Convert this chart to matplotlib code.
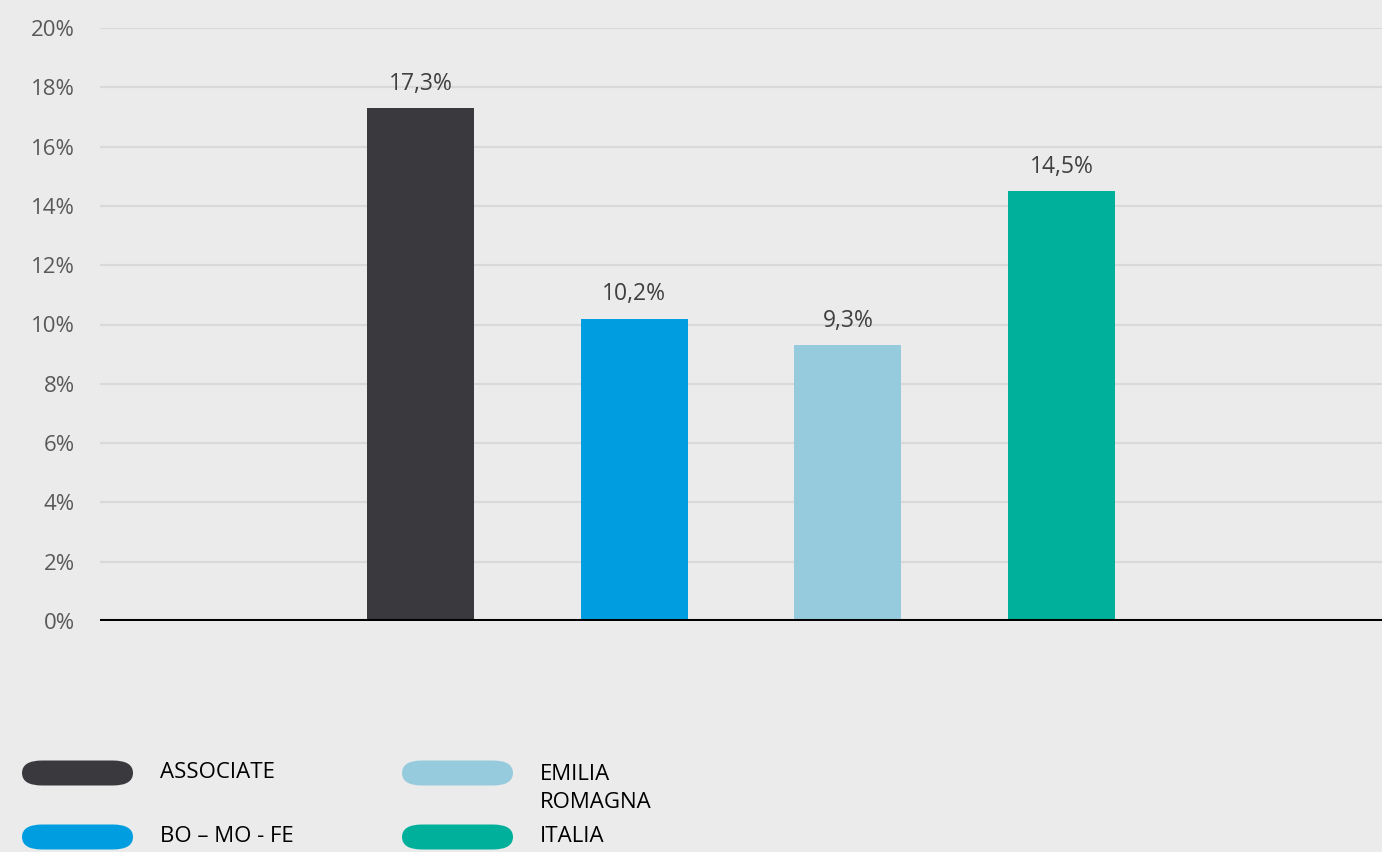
import matplotlib.pyplot as plt
from matplotlib.patches import FancyBboxPatch
import numpy as np

# data
categories = ['', 'ASSOCIATE', 'BO – MO - FE', 'EMILIA\nROMAGNA', 'ITALIA', '']
values = [None, 17.3, 10.2, 9.3, 14.5, None]
colors = ['#3a393e', '#009ee0', '#96cbdd', '#00b09b']
yticks = [0, 2, 4, 6, 8, 10, 12, 14, 16, 18, 20]

bg = '#ebebeb'
plt.rcParams['font.family'] = ['Open Sans', 'DejaVu Sans']

fig = plt.figure(figsize=(13.82, 8.52), dpi=100, facecolor=bg)
ax = fig.add_axes([100 / 1382, 1 - 621 / 852, 1 - 100 / 1382, (621 - 28) / 852])
ax.set_facecolor(bg)

shown = [i for i, v in enumerate(values) if v is not None]
bar_vals = [values[i] for i in shown]
bars = ax.bar(shown, bar_vals, width=0.5, color=colors, zorder=3)

for b, v in zip(bars, bar_vals):
    ax.annotate(f"{v:.1f}%".replace('.', ','),
                (b.get_x() + b.get_width() / 2, v),
                xytext=(0, 9), textcoords='offset points',
                ha='center', va='bottom', fontsize=16.5, color='#404040')

ax.set_xlim(-0.5, len(categories) - 0.5)
ax.set_ylim(0, 20)
ax.set_yticks(yticks)
ax.set_yticklabels([f"{t}%" for t in yticks], fontsize=16, color='#595959')
ax.set_xticks([])
ax.tick_params(axis='y', length=0, pad=18)
ax.grid(axis='y', color='#d9d9d9', lw=1.6, zorder=0)
for s in ax.spines.values():
    s.set_visible(False)
ax.axhline(0.05, color='black', lw=2.2, zorder=4)

# legend drawn by hand: pill shaped markers
legend_pos = [(22, 773), (22, 837), (402, 773), (402, 837)]
order = [1, 2, 3, 4]
for (px, py), idx, c in zip(legend_pos, order, colors):
    w, h = 111, 25
    patch = FancyBboxPatch((px / 1382, 1 - (py + h / 2) / 852), w / 1382, h / 852,
                           boxstyle=f"round,pad=0,rounding_size={h / 2 / 852}",
                           transform=fig.transFigure, facecolor=c, edgecolor='none')
    fig.patches.append(patch)
    label = categories[idx]
    multi = '\n' in label
    fig.text((px + 138) / 1382, 1 - (py - 9 if multi else py) / 852, label,
             fontsize=16, color='black', ha='left',
             va='top' if multi else 'center', linespacing=1.45,
             transform=fig.transFigure)

fig.savefig('out.png', dpi=100, facecolor=bg)
